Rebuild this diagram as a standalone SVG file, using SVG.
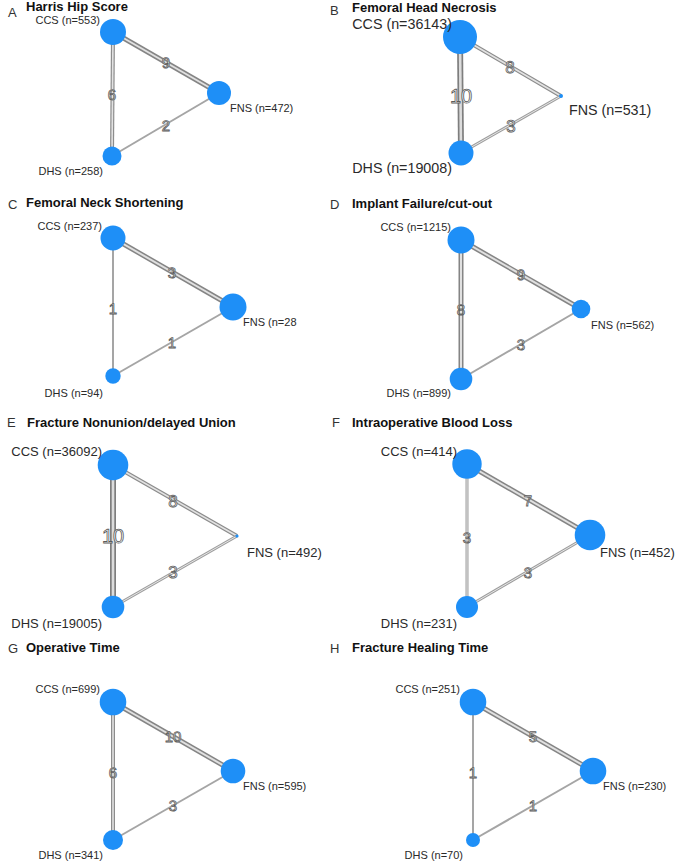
<svg xmlns="http://www.w3.org/2000/svg" width="680" height="865" viewBox="0 0 680 865">
<style>
text{font-family:"Liberation Sans",Arial,sans-serif}
.pl{font-size:13px;fill:#333}
.tt{font-size:13px;font-weight:bold;fill:#111}
.nd{fill:#1e8ff7}
.lb{font-size:11px;fill:#2a2a2a}
.lbL{font-size:13px;fill:#2a2a2a}
.lbXL{font-size:14.3px;fill:#2a2a2a}
.e1{stroke:#a5a5a5;stroke-width:2;fill:none}
.e3o{stroke:#9e9e9e;stroke-width:3}
.e3i{stroke:#e6e6e6;stroke-width:1}
.e6o{stroke:#8c8c8c;stroke-width:4}
.e6i{stroke:#e2e2e2;stroke-width:1.6}
.e9o{stroke:#858585;stroke-width:5}
.e9i{stroke:#e0e0e0;stroke-width:2}
.e10o{stroke:#7e7e7e;stroke-width:6}
.e10i{stroke:#dcdcdc;stroke-width:2.6}
.el{font-size:15px;fill:#fff;stroke:#5c5c5c;stroke-width:0.8;text-anchor:middle;dominant-baseline:central;text-rendering:geometricPrecision}
.elL{font-size:17px}
.elXL{font-size:20px}
</style>

<!-- Panel A -->
<g id="panelA">
<text class="pl" x="8" y="17">A</text>
<text class="tt" x="26" y="11">Harris Hip Score</text>
<g id="connectors-A">
<line class="e9o" x1="113" y1="32" x2="219" y2="93"/><line class="e9i" x1="113" y1="32" x2="219" y2="93"/>
<line class="e6o" x1="113" y1="32" x2="112" y2="156"/><line class="e6i" x1="113" y1="32" x2="112" y2="156"/>
<line class="e1" x1="219" y1="93" x2="112" y2="156"/>
<text class="el" x="166" y="63">9</text>
<text class="el" x="112" y="95">6</text>
<text class="el" x="166" y="126">2</text>
</g>
<g id="A-CCS"><circle class="nd" cx="113" cy="32" r="13"/><text class="lb" x="100" y="24" text-anchor="end">CCS (n=553)</text></g>
<g id="A-FNS"><circle class="nd" cx="219" cy="93" r="12"/><text class="lb" x="230" y="112">FNS (n=472)</text></g>
<g id="A-DHS"><circle class="nd" cx="112" cy="156" r="9.5"/><text class="lb" x="103" y="175" text-anchor="end">DHS (n=258)</text></g>
</g>

<!-- Panel B -->
<g id="panelB">
<text class="pl" x="330" y="15">B</text>
<text class="tt" x="352" y="12">Femoral Head Necrosis</text>
<g id="connectors-B">
<line class="e6o" x1="460" y1="37" x2="561" y2="96"/><line class="e6i" x1="460" y1="37" x2="561" y2="96"/>
<line class="e10o" x1="460" y1="37" x2="461" y2="153"/><line class="e10i" x1="460" y1="37" x2="461" y2="153"/>
<line class="e3o" x1="561" y1="96" x2="461" y2="153"/><line class="e3i" x1="561" y1="96" x2="461" y2="153"/>
<text class="el elL" x="510" y="67">8</text>
<text class="el elXL" x="461" y="97">10</text>
<text class="el elL" x="511" y="126">3</text>
</g>
<g id="B-CCS"><circle class="nd" cx="460" cy="37" r="17"/><text class="lbXL" x="452" y="29" text-anchor="end">CCS (n=36143)</text></g>
<g id="B-FNS"><circle class="nd" cx="561" cy="96" r="2"/><text class="lbXL" x="569" y="115">FNS (n=531)</text></g>
<g id="B-DHS"><circle class="nd" cx="461" cy="153" r="12.5"/><text class="lbXL" x="452" y="173" text-anchor="end">DHS (n=19008)</text></g>
</g>

<!-- Panel C -->
<g id="panelC">
<text class="pl" x="8" y="209">C</text>
<text class="tt" x="26" y="207">Femoral Neck Shortening</text>
<g id="connectors-C">
<line class="e9o" x1="113" y1="238" x2="233" y2="307"/><line class="e9i" x1="113" y1="238" x2="233" y2="307"/>
<line class="e1" x1="113" y1="238" x2="113" y2="376"/>
<line class="e1" x1="233" y1="307" x2="113" y2="376"/>
<text class="el" x="172" y="273">3</text>
<text class="el" x="113" y="309">1</text>
<text class="el" x="172" y="343">1</text>
</g>
<g id="C-CCS"><circle class="nd" cx="113" cy="238" r="12.5"/><text class="lb" x="102" y="230" text-anchor="end">CCS (n=237)</text></g>
<g id="C-FNS"><circle class="nd" cx="233" cy="307" r="13.5"/><text class="lb" x="243" y="326">FNS (n=28</text></g>
<g id="C-DHS"><circle class="nd" cx="113" cy="376" r="7.7"/><text class="lb" x="103" y="397" text-anchor="end">DHS (n=94)</text></g>
</g>

<!-- Panel D -->
<g id="panelD">
<text class="pl" x="330" y="209">D</text>
<text class="tt" x="352" y="208">Implant Failure/cut-out</text>
<g id="connectors-D">
<line class="e9o" x1="461" y1="240" x2="581" y2="309"/><line class="e9i" x1="461" y1="240" x2="581" y2="309"/>
<line class="e9o" x1="461" y1="240" x2="461" y2="379"/><line class="e9i" x1="461" y1="240" x2="461" y2="379"/>
<line class="e1" x1="581" y1="309" x2="461" y2="379"/>
<text class="el" x="521" y="275">9</text>
<text class="el" x="461" y="310">8</text>
<text class="el" x="521" y="345">3</text>
</g>
<g id="D-CCS"><circle class="nd" cx="461" cy="240" r="13.5"/><text class="lb" x="451" y="231" text-anchor="end">CCS (n=1215)</text></g>
<g id="D-FNS"><circle class="nd" cx="581" cy="309" r="9.3"/><text class="lb" x="591" y="329">FNS (n=562)</text></g>
<g id="D-DHS"><circle class="nd" cx="461" cy="379" r="11.3"/><text class="lb" x="451" y="397" text-anchor="end">DHS (n=899)</text></g>
</g>

<!-- Panel E -->
<g id="panelE">
<text class="pl" x="7" y="427">E</text>
<text class="tt" x="27" y="427">Fracture Nonunion/delayed Union</text>
<g id="connectors-E">
<line class="e6o" x1="113" y1="465" x2="237" y2="536"/><line class="e6i" x1="113" y1="465" x2="237" y2="536"/>
<line class="e10o" x1="113" y1="465" x2="113" y2="607"/><line class="e10i" x1="113" y1="465" x2="113" y2="607"/>
<line class="e3o" x1="237" y1="536" x2="113" y2="607"/><line class="e3i" x1="237" y1="536" x2="113" y2="607"/>
<text class="el elL" x="173" y="501">8</text>
<text class="el elXL" x="113" y="537">10</text>
<text class="el elL" x="173" y="572">3</text>
</g>
<g id="E-CCS"><circle class="nd" cx="113" cy="465" r="15.3"/><text class="lbL" x="102" y="456" text-anchor="end">CCS (n=36092)</text></g>
<g id="E-FNS"><circle class="nd" cx="237" cy="536" r="1.6"/><text class="lbL" x="247" y="557">FNS (n=492)</text></g>
<g id="E-DHS"><circle class="nd" cx="113" cy="607" r="11.3"/><text class="lbL" x="102" y="628" text-anchor="end">DHS (n=19005)</text></g>
</g>

<!-- Panel F -->
<g id="panelF">
<text class="pl" x="332" y="427">F</text>
<text class="tt" x="352" y="427">Intraoperative Blood Loss</text>
<g id="connectors-F">
<line class="e9o" x1="467" y1="464" x2="590" y2="535"/><line class="e9i" x1="467" y1="464" x2="590" y2="535"/>
<line class="e3o" x1="467" y1="464" x2="467" y2="607"/><line class="e3i" x1="467" y1="464" x2="467" y2="607"/>
<line class="e3o" x1="590" y1="535" x2="467" y2="607"/><line class="e3i" x1="590" y1="535" x2="467" y2="607"/>
<text class="el" x="528" y="501">7</text>
<text class="el" x="467" y="538">3</text>
<text class="el" x="528" y="573">3</text>
</g>
<g id="F-CCS"><circle class="nd" cx="467" cy="464" r="14.7"/><text class="lbL" x="457" y="456" text-anchor="end">CCS (n=414)</text></g>
<g id="F-FNS"><circle class="nd" cx="590" cy="535" r="15.3"/><text class="lbL" x="600" y="557">FNS (n=452)</text></g>
<g id="F-DHS"><circle class="nd" cx="467" cy="607" r="11"/><text class="lbL" x="457" y="628" text-anchor="end">DHS (n=231)</text></g>
</g>

<!-- Panel G -->
<g id="panelG">
<text class="pl" x="8" y="653">G</text>
<text class="tt" x="26" y="652">Operative Time</text>
<g id="connectors-G">
<line class="e9o" x1="113" y1="702" x2="233" y2="771"/><line class="e9i" x1="113" y1="702" x2="233" y2="771"/>
<line class="e6o" x1="113" y1="702" x2="113" y2="840"/><line class="e6i" x1="113" y1="702" x2="113" y2="840"/>
<line class="e1" x1="233" y1="771" x2="113" y2="840"/>
<text class="el" x="173" y="737">10</text>
<text class="el" x="113" y="773">6</text>
<text class="el" x="173" y="806">3</text>
</g>
<g id="G-CCS"><circle class="nd" cx="113" cy="702" r="13.3"/><text class="lb" x="100" y="693" text-anchor="end">CCS (n=699)</text></g>
<g id="G-FNS"><circle class="nd" cx="233" cy="771" r="12.3"/><text class="lb" x="243" y="790">FNS (n=595)</text></g>
<g id="G-DHS"><circle class="nd" cx="113" cy="840" r="10"/><text class="lb" x="103" y="859" text-anchor="end">DHS (n=341)</text></g>
</g>

<!-- Panel H -->
<g id="panelH">
<text class="pl" x="330" y="653">H</text>
<text class="tt" x="352" y="652">Fracture Healing Time</text>
<g id="connectors-H">
<line class="e9o" x1="473" y1="702" x2="593" y2="771"/><line class="e9i" x1="473" y1="702" x2="593" y2="771"/>
<line class="e1" x1="473" y1="702" x2="473" y2="840"/>
<line class="e1" x1="593" y1="771" x2="473" y2="840"/>
<text class="el" x="533" y="737">5</text>
<text class="el" x="473" y="773">1</text>
<text class="el" x="533" y="806">1</text>
</g>
<g id="H-CCS"><circle class="nd" cx="473" cy="702" r="13.3"/><text class="lb" x="460" y="693" text-anchor="end">CCS (n=251)</text></g>
<g id="H-FNS"><circle class="nd" cx="593" cy="771" r="13.3"/><text class="lb" x="603" y="790">FNS (n=230)</text></g>
<g id="H-DHS"><circle class="nd" cx="473" cy="840" r="7"/><text class="lb" x="463" y="859" text-anchor="end">DHS (n=70)</text></g>
</g>
</svg>
